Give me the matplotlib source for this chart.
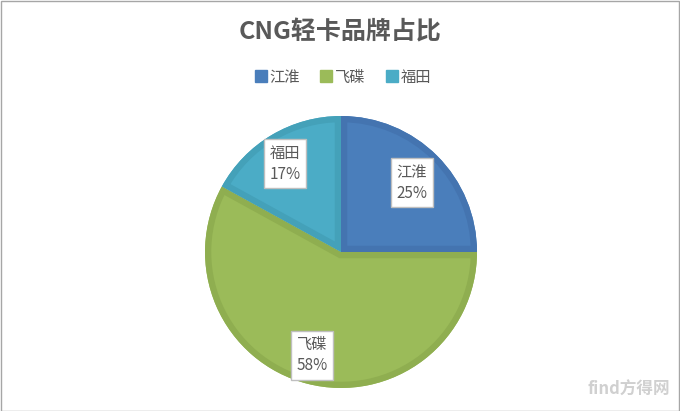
import matplotlib.pyplot as plt
from matplotlib.patches import Rectangle, Wedge

plt.rcParams['font.family'] = ['Noto Sans CJK SC', 'DejaVu Sans']

brands = ['江淮', '飞碟', '福田']
shares = [25, 58, 17]
colors = ['#4a7ebb', '#9bbb59', '#4bacc6']
edges = ['#4474b0', '#8fae50', '#44a1b9']

fig = plt.figure(figsize=(6.8, 4.11), dpi=100)
fig.patches.append(Rectangle((0.001, 0.001), 0.997, 0.997, transform=fig.transFigure,
                             fill=False, edgecolor='#a6a6a6', linewidth=1))

ax = fig.add_axes([0.2975, 0.0494, 0.408, 0.675])
wedges, _ = ax.pie(shares, colors=colors, startangle=90, counterclock=False,
                   radius=1, wedgeprops=dict(linewidth=0))
ax.set_xlim(-1.02, 1.02)
ax.set_ylim(-1.02, 1.02)
ax.set_aspect('equal')

# darker rim drawn only inside each slice
for w, ec in zip(wedges, edges):
    rim = Wedge(w.center, w.r, w.theta1, w.theta2, fill=False, edgecolor=ec,
                linewidth=9)
    ax.add_patch(rim)
    rim.set_clip_path(w.get_path(), w.get_transform())

# label positions (data coords)
label_pos = [(0.52, 0.51), (-0.21, -0.76), (-0.41, 0.65)]
for name, v, (lx, ly) in zip(brands, shares, label_pos):
    ax.text(lx, ly, f'{name}\n{v}%', ha='center', va='center', fontsize=11,
            color='#595959', linespacing=1.3, zorder=5,
            bbox=dict(boxstyle='square,pad=0.35', facecolor='white',
                      edgecolor='#bfbfbf', linewidth=1))

fig.text(0.5, 0.92, 'CNG轻卡品牌占比', ha='center', va='center', fontsize=18,
         fontweight='bold', color='#595959')

handles = [plt.Line2D([], [], marker='s', linestyle='', markersize=8,
                      markerfacecolor=c, markeredgecolor=c) for c in colors]
fig.legend(handles, brands, loc='center', bbox_to_anchor=(0.5, 0.812), ncol=3,
           frameon=False, fontsize=11, handletextpad=-0.2, columnspacing=1.0,
           handlelength=1.5, labelcolor='#595959')

fig.text(0.985, 0.03, 'find方得网', ha='right', va='bottom', fontsize=12,
         color='#d0d0d0', fontweight='bold')

fig.savefig('out.png', dpi=100)
